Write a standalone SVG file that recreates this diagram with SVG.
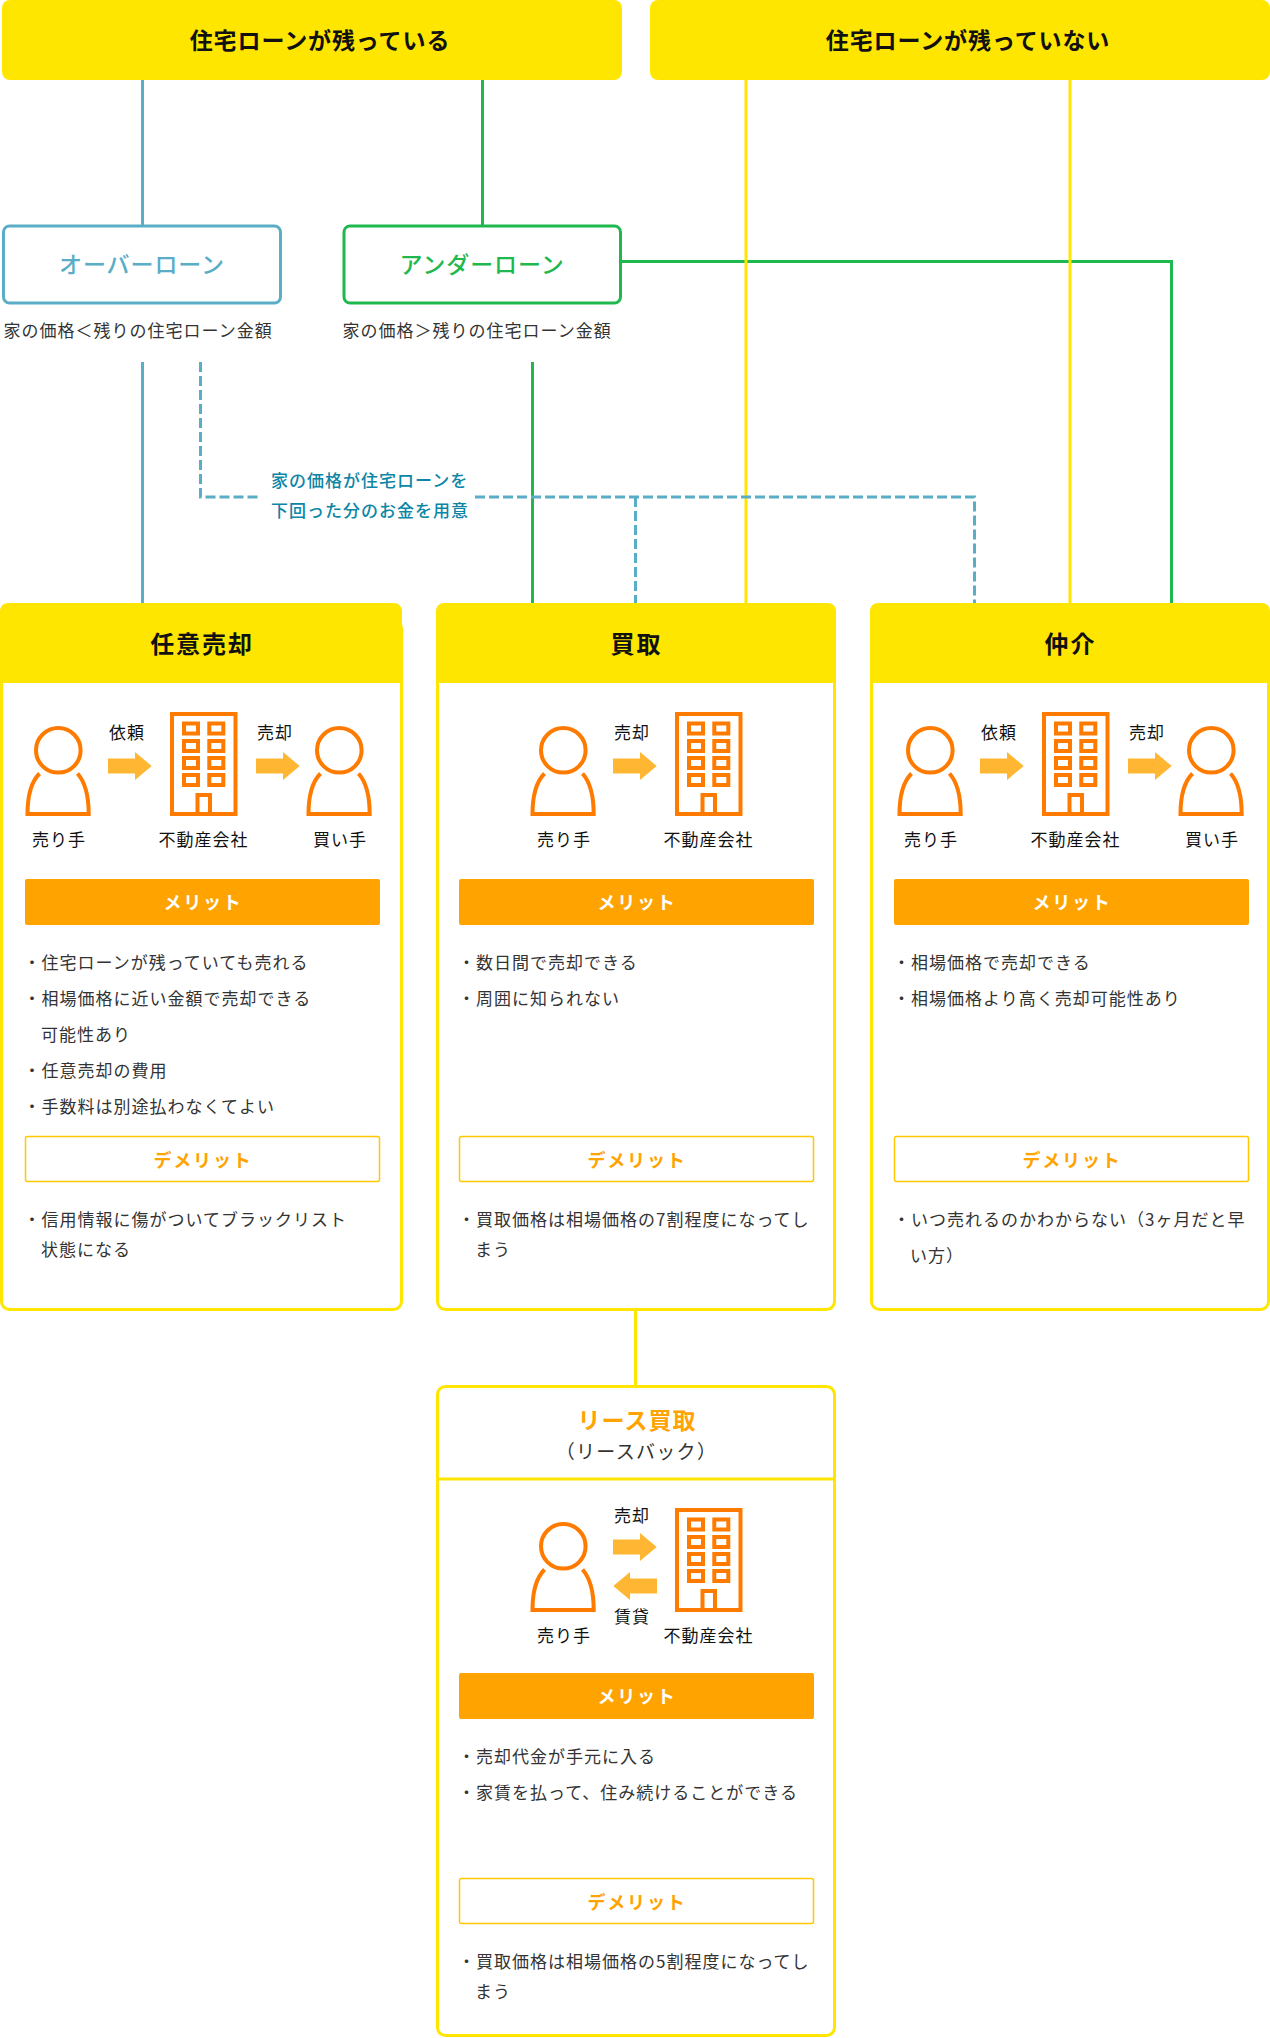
<svg xmlns="http://www.w3.org/2000/svg" width="1270" height="2038" viewBox="0 0 1270 2038">
<style>
text{font-family:"Noto Sans CJK JP","Noto Sans",sans-serif;font-size:17px;letter-spacing:1px;fill:#333}
.c{text-anchor:middle}
.top{font-size:23px;font-weight:700;fill:#111;letter-spacing:.9px}
.loan{font-size:23px;font-weight:500;letter-spacing:.9px}
.h{font-size:24px;font-weight:700;fill:#111;letter-spacing:1.9px}
.lab{fill:#111;letter-spacing:1px}
.mer{font-size:18px;font-weight:700;fill:#fff;letter-spacing:1.8px}
.dem{font-size:18px;font-weight:700;fill:#ffa300;letter-spacing:1.8px}
.note{fill:#0c86a6;font-weight:500}
.line{fill:none;stroke-width:3}
.ico{fill:none;stroke:#ff7b00;stroke-width:4}
.arr{fill:#ffb733}
.merbar{fill:#ffa300}
.dembar{fill:#fff;stroke:#ffc800;stroke-width:1.5}
.yb{fill:#ffe600}
</style>
<defs>
<g id="person"><circle class="ico" cx="58.300" cy="750.300" r="22.300"/><path class="ico" d="M39.500 773.500C31 782 27.500 797 27.500 814H88.700C88.700 797 85 782 77.500 773.500"/></g>
<g id="bld"><rect class="ico" x="172" y="714" width="63.500" height="100"/><g class="ico"><rect x="184" y="723.500" width="14" height="10"/><rect x="209.300" y="723.500" width="14" height="10"/><rect x="184" y="741" width="14" height="10"/><rect x="209.300" y="741" width="14" height="10"/><rect x="184" y="758" width="14" height="10"/><rect x="209.300" y="758" width="14" height="10"/><rect x="184" y="775" width="14" height="10"/><rect x="209.300" y="775" width="14" height="10"/><path d="M197.500 814V795H210V814"/></g></g>
<path id="arrow" class="arr" d="M108 758.500H135V752L151.700 766L135 780V773.500H108Z"/>
</defs>

<g id="connectors">
<path class="line" stroke="#5aadc6" d="M142.500 80V225M142.500 362V604"/>
<path class="line" stroke="#1fb84f" d="M482.500 80V225M532.500 362V604M620 261.500H1171.500V604"/>
<path class="line" stroke="#ffe600" d="M746 80V604M1070 80V604M635.500 1310V1385"/>
<path class="line" stroke="#5aadc6" stroke-dasharray="10 4" d="M200.500 362V497H260M475 497H974.500V604M635.500 497V604"/>
</g>

<g id="top-left"><rect class="yb" x="2" width="620" height="80" rx="8"/><text class="top c" x="320" y="49">住宅ローンが残っている</text></g>
<g id="top-right"><rect class="yb" x="650" width="620" height="80" rx="8"/><text class="top c" x="968" y="49">住宅ローンが残っていない</text></g>

<g id="over"><rect x="3.500" y="226" width="277" height="77" rx="6" fill="#fff" stroke="#5aadc6" stroke-width="3"/><text class="loan c" x="142" y="273" style="fill:#5aadc6">オーバーローン</text><text x="3.500" y="336.500">家の価格＜残りの住宅ローン金額</text></g>
<g id="under"><rect x="344" y="226" width="276.500" height="77" rx="6" fill="#fff" stroke="#1fb84f" stroke-width="3"/><text class="loan c" x="482" y="273" style="fill:#1fb84f">アンダーローン</text><text x="342.500" y="336.500">家の価格＞残りの住宅ローン金額</text></g>
<g id="note"><text class="note" x="271" y="486.500">家の価格が住宅ローンを</text><text class="note" x="271" y="516.500">下回った分のお金を用意</text></g>

<g id="card-nini">
<rect x="1.500" y="620" width="400" height="689.500" rx="8" fill="#fff" stroke="#ffe600" stroke-width="3"/>
<path class="yb" d="M0 611a8 8 0 0 1 8-8H394a8 8 0 0 1 8 8V633h1V683H0Z"/>
<text class="h c" x="202" y="652.500">任意売却</text>
<use href="#person"/><use href="#bld"/><use href="#arrow"/><use href="#arrow" x="148"/><use href="#person" x="281"/>
<text class="lab c" x="59" y="846">売り手</text><text class="lab c" x="203.500" y="846">不動産会社</text><text class="lab c" x="340" y="846">買い手</text>
<text class="lab c" x="127" y="739">依頼</text><text class="lab c" x="275" y="739">売却</text>
<rect class="merbar" x="25" y="879" width="355" height="46" rx="2"/><text class="mer c" x="203" y="908.500">メリット</text>
<text x="23.500" y="968.500">・住宅ローンが残っていても売れる</text>
<text x="23.500" y="1004.500">・相場価格に近い金額で売却できる</text>
<text x="41" y="1040.500">可能性あり</text>
<text x="23.500" y="1076.500">・任意売却の費用</text>
<text x="23.500" y="1112.500">・手数料は別途払わなくてよい</text>
<rect class="dembar" x="25.500" y="1136.500" width="354" height="45" rx="2"/><text class="dem c" x="203" y="1166.500">デメリット</text>
<text x="23.500" y="1225.500">・信用情報に傷がついてブラックリスト</text>
<text x="41" y="1255.500">状態になる</text>
</g>

<g id="card-kaitori">
<rect x="437.500" y="620" width="397" height="689.500" rx="8" fill="#fff" stroke="#ffe600" stroke-width="3"/>
<path class="yb" d="M436 611a8 8 0 0 1 8-8H828a8 8 0 0 1 8 8V683H436Z"/>
<text class="h c" x="636.500" y="652.500">買取</text>
<use href="#person" x="505"/><use href="#bld" x="505"/><use href="#arrow" x="505"/>
<text class="lab c" x="564" y="846">売り手</text><text class="lab c" x="708.500" y="846">不動産会社</text>
<text class="lab c" x="632" y="739">売却</text>
<rect class="merbar" x="459" y="879" width="355" height="46" rx="2"/><text class="mer c" x="637" y="908.500">メリット</text>
<text x="458" y="968.500">・数日間で売却できる</text>
<text x="458" y="1004.500">・周囲に知られない</text>
<rect class="dembar" x="459.500" y="1136.500" width="354" height="45" rx="2"/><text class="dem c" x="637" y="1166.500">デメリット</text>
<text x="458" y="1225.500">・買取価格は相場価格の7割程度になってし</text>
<text x="475" y="1255.500">まう</text>
</g>

<g id="card-chukai">
<rect x="871.500" y="620" width="397" height="689.500" rx="8" fill="#fff" stroke="#ffe600" stroke-width="3"/>
<path class="yb" d="M870 611a8 8 0 0 1 8-8H1262a8 8 0 0 1 8 8V683H870Z"/>
<text class="h c" x="1070.500" y="652.500">仲介</text>
<use href="#person" x="872"/><use href="#bld" x="872"/><use href="#arrow" x="872"/><use href="#arrow" x="1020"/><use href="#person" x="1153"/>
<text class="lab c" x="931" y="846">売り手</text><text class="lab c" x="1075.500" y="846">不動産会社</text><text class="lab c" x="1212" y="846">買い手</text>
<text class="lab c" x="999" y="739">依頼</text><text class="lab c" x="1147" y="739">売却</text>
<rect class="merbar" x="894" y="879" width="355" height="46" rx="2"/><text class="mer c" x="1072" y="908.500">メリット</text>
<text x="893" y="968.500">・相場価格で売却できる</text>
<text x="893" y="1004.500">・相場価格より高く売却可能性あり</text>
<rect class="dembar" x="894.500" y="1136.500" width="354" height="45" rx="2"/><text class="dem c" x="1072" y="1166.500">デメリット</text>
<text x="893" y="1225.500">・いつ売れるのかわからない（3ヶ月だと早</text>
<text x="910" y="1261.500">い方）</text>
</g>

<g id="card-lease">
<rect x="437.500" y="1386.500" width="397" height="649" rx="8" fill="#fff" stroke="#ffe600" stroke-width="3"/>
<path d="M437 1479H835" stroke="#ffe600" stroke-width="3"/>
<text class="c" x="637" y="1428.500" style="font-size:23px;font-weight:700;fill:#ffa300;letter-spacing:1px">リース買取</text>
<text class="c" x="636.500" y="1458.500" style="font-size:19px;letter-spacing:1.3px">（リースバック）</text>
<use href="#person" y="796" x="505"/><use href="#bld" y="796" x="505"/><use href="#arrow" y="781" x="505"/>
<path class="arr" d="M657 1578.500H630V1572L613.300 1586L630 1600V1593.500H657Z"/>
<text class="lab c" x="564" y="1642">売り手</text><text class="lab c" x="708.500" y="1642">不動産会社</text>
<text class="lab c" x="632" y="1522">売却</text><text class="lab c" x="632" y="1622.500">賃貸</text>
<rect class="merbar" x="459" y="1673" width="355" height="46" rx="2"/><text class="mer c" x="637" y="1702.500">メリット</text>
<text x="458" y="1762.500">・売却代金が手元に入る</text>
<text x="458" y="1798.500">・家賃を払って、住み続けることができる</text>
<rect class="dembar" x="459.500" y="1878.500" width="354" height="45" rx="2"/><text class="dem c" x="637" y="1908.500">デメリット</text>
<text x="458" y="1967.500">・買取価格は相場価格の5割程度になってし</text>
<text x="475" y="1997.500">まう</text>
</g>
</svg>
